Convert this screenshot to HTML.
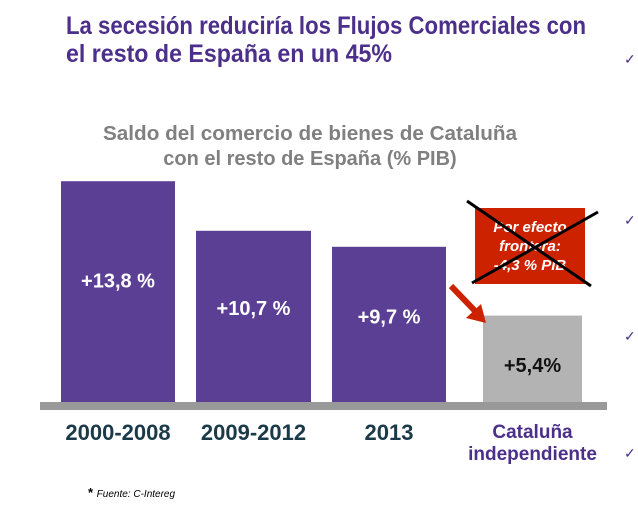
<!DOCTYPE html>
<html><head><meta charset="utf-8"><style>
body{margin:0;background:#fff;width:638px;height:509px;overflow:hidden;font-family:"Liberation Sans",sans-serif}
</style></head><body>
<svg width="638" height="509" xmlns="http://www.w3.org/2000/svg">
<g font-family="Liberation Sans, sans-serif" font-weight="bold">
<text x="66" y="34" font-size="25" fill="#4b2f8a" textLength="520" lengthAdjust="spacingAndGlyphs">La secesión reduciría los Flujos Comerciales con</text>
<text x="66" y="62" font-size="25" fill="#4b2f8a" textLength="326" lengthAdjust="spacingAndGlyphs">el resto de España en un 45%</text>
<text x="310" y="140" font-size="20" fill="#808080" text-anchor="middle" textLength="414" lengthAdjust="spacingAndGlyphs">Saldo del comercio de bienes de Cataluña</text>
<text x="310" y="165" font-size="20" fill="#808080" text-anchor="middle">con el resto de España (% PIB)</text>
</g>
<g id="bars"></g>
<rect x="40" y="402" width="567" height="8" fill="#999999"/>
<rect x="475" y="208" width="110" height="76" fill="#cc2200"/>
<g font-family="Liberation Sans, sans-serif" font-weight="bold" font-style="italic" font-size="15" fill="#fff" text-anchor="middle">
<text x="530" y="232">Por efecto</text><text x="530" y="251">frontera:</text><text x="530" y="270">-4,3 % PIB</text></g>
<line x1="467" y1="201" x2="591" y2="286" stroke="#000" stroke-width="3"/>
<line x1="598" y1="212" x2="472" y2="283" stroke="#000" stroke-width="3"/>
<g><line x1="451" y1="286" x2="477" y2="313" stroke="#cc2200" stroke-width="6"/><polygon points="486,323 466,318 481,304" fill="#cc2200"/></g>
<g font-family="Liberation Sans, sans-serif" font-size="14" fill="#4b2f8a">
<text x="624" y="64">✓</text>
<text x="624" y="225">✓</text>
<text x="624" y="341">✓</text>
<text x="624" y="458">✓</text>
</g>
<text x="88" y="497" font-family="Liberation Sans, sans-serif" font-size="10" font-style="italic" fill="#000"><tspan font-weight="bold" font-style="normal" font-size="13">* </tspan>Fuente: C-Intereg</text>
</svg>
<script>
const categories=["2000-2008","2009-2012","2013","Cataluña independiente"];
const values=[13.8,10.7,9.7,5.4];
const valueLabels=["+13,8 %","+10,7 %","+9,7 %","+5,4%"];
const NS="http://www.w3.org/2000/svg";
const base=402, scale=16.0;
const xs=[[61,114],[196,115],[332,114],[483,99]];
function y(v){return base-v*scale;}
const g=document.getElementById('bars');
function mk(t,a){const e=document.createElementNS(NS,t);for(const k in a)e.setAttribute(k,a[k]);return e;}
values.forEach((v,i)=>{
  const last=i===3;
  const r=mk('rect',{x:xs[i][0],y:y(v),width:xs[i][1],height:base-y(v),fill:last?'#b3b3b3':'#5b3f94'});
  
  
  g.appendChild(r);
  const cx=xs[i][0]+xs[i][1]/2;
  const t=mk('text',{x:cx,y:last?372:(y(v)+(base-y(v))*0.45+7),'text-anchor':'middle','font-size':20,'font-weight':'bold','font-family':'Liberation Sans, sans-serif',fill:last?'#111':'#fff'});
  t.textContent=valueLabels[i];
  
  
  g.appendChild(t);
  const c=mk('text',{x:cx,y:440,'text-anchor':'middle','font-size':last?19:22,'font-weight':'bold','font-family':'Liberation Sans, sans-serif',fill:last?'#4b2f8a':'#1a3a4a'});
  if(last){const p=categories[i].split(' ');c.innerHTML='<tspan x="'+cx+'" y="438">'+p[0]+'</tspan><tspan x="'+cx+'" y="460">'+p[1]+'</tspan>';}
  else c.textContent=categories[i];
  
  
  g.appendChild(c);
});
</script>
</body></html>
